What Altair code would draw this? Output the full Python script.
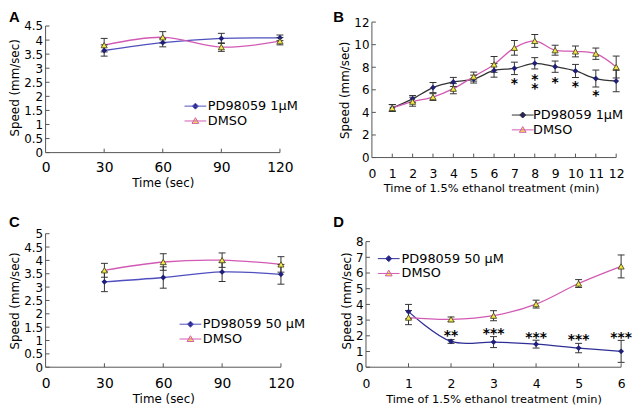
import altair as alt
import pandas as pd

# ---------------- data ----------------
A_time = [30, 60, 90, 120]
A_pd = [3.63, 3.91, 4.06, 4.08]
A_pd_err = [0.20, 0.15, 0.18, 0.10]
A_dm = [3.82, 4.10, 3.75, 3.96]
A_dm_err = [0.24, 0.20, 0.15, 0.13]

B_time = [1, 2, 3, 4, 5, 6, 7, 8, 9, 10, 11, 12]
B_pd = [4.39, 5.20, 6.20, 6.70, 6.95, 7.72, 7.90, 8.35, 8.05, 7.67, 7.00, 6.78]
B_pd_err = [0.30, 0.30, 0.45, 0.40, 0.35, 0.60, 0.55, 0.50, 0.50, 0.58, 0.75, 0.95]
B_dm = [4.39, 4.95, 5.36, 6.10, 7.17, 8.25, 9.72, 10.33, 9.51, 9.40, 9.20, 8.02]
B_dm_err = [0.30, 0.40, 0.30, 0.45, 0.40, 0.70, 0.65, 0.57, 0.44, 0.48, 0.50, 0.97]
B_star_t = [7, 8, 9, 10, 11]
B_star_v = [6.78, 7.10, 6.90, 6.50, 5.70]
B_star_txt = ["*", "*\n*", "*", "*", "*"]

C_time = [30, 60, 90, 120]
C_pd = [3.20, 3.36, 3.57, 3.48]
C_pd_err = [0.37, 0.40, 0.36, 0.37]
C_dm = [3.63, 3.94, 4.01, 3.85]
C_dm_err = [0.26, 0.31, 0.27, 0.29]

D_time = [1, 2, 3, 4, 5, 6]
D_pd = [3.54, 1.64, 1.60, 1.47, 1.22, 1.01]
D_pd_err = [0.46, 0.12, 0.35, 0.25, 0.30, 0.70]
D_dm = [3.16, 3.05, 3.28, 4.02, 5.33, 6.42]
D_dm_err = [0.45, 0.15, 0.32, 0.25, 0.25, 0.73]
D_star_t = [2, 3, 4, 5, 6]
D_star_v = [2.17, 2.30, 2.04, 1.90, 2.04]
D_star_txt = ["**", "***", "***", "***", "***"]

LBL_1 = "PD98059 1\u03bcM"
LBL_50 = "PD98059 50 \u03bcM"
LBL_DM = "DMSO"
PANELS = ["A", "B", "C", "D"]

FONT = "DejaVu Sans"
PD_MARK = "#1f1f78"
DM_FILL = "#f2e64a"
DM_EDGE = "#4a4a20"
DM_LINE = "#d25ab4"
ERR = "#333333"
AXIS = "#555555"

PATH_DIAMOND = "M-2,0L2,0M0,-0.55L0.55,0L0,0.55L-0.55,0Z"
PATH_TRI = "M-2,0L2,0M0,-0.6L0.62,0.45L-0.62,0.45Z"


def panel(letter, times, pd_y, pd_e, dm_y, dm_e, pd_label, pd_line,
          xdom, xticks, ydom, yticks, w, h, xtitle, xtitle_size, xlab_size, xlab_pad,
          leg_x, leg_y, leg_off, letter_x, letter_y, stars=None, pad=0):
    rows = []
    for t, v, e in zip(times, pd_y, pd_e):
        rows.append(dict(t=t, v=v, lo=v - e, hi=v + e, s=pd_label))
    for t, v, e in zip(times, dm_y, dm_e):
        rows.append(dict(t=t, v=v, lo=v - e, hi=v + e, s=LBL_DM))
    df = pd.DataFrame(rows)

    # optional extra room on the left of the axis (pixels) so that panels line up
    ppu = w / (xdom[1] - xdom[0])
    xs = alt.Scale(domain=[xdom[0] - pad / ppu, xdom[1]], nice=False, zero=False)
    ys = alt.Scale(domain=ydom, nice=False, zero=False)

    x_axis = alt.Axis(values=xticks, title=xtitle, titleFont=FONT, titleFontSize=xtitle_size,
                      titleFontWeight="normal", titleColor="#000", titlePadding=3,
                      labelFont=FONT, labelFontSize=xlab_size, labelColor="#000",
                      labelPadding=xlab_pad, labelFlush=False, ticks=False, tickSize=0,
                      grid=False, domain=False, format="d")
    y_axis = alt.Axis(values=yticks, title="Speed (mm/sec)", titleFont=FONT, titleFontSize=12,
                      titleFontWeight="normal", titleColor="#000", titlePadding=2,
                      labelFont=FONT, labelFontSize=12, labelColor="#000", labelPadding=3,
                      labelFlush=False, ticks=False, tickSize=0, grid=False, domain=False,
                      format="~g", offset=-pad)

    base = alt.Chart(df)
    X = alt.X("t:Q", scale=xs, axis=x_axis)
    Y = alt.Y("v:Q", scale=ys, axis=y_axis)
    YLO = alt.Y("lo:Q", scale=ys, axis=y_axis)
    YHI = alt.Y("hi:Q", scale=ys, axis=y_axis)

    yline = alt.Chart(pd.DataFrame({"a": [yticks[0]], "b": [yticks[-1]]})).mark_rule(
        color=AXIS, strokeWidth=1).encode(
        x=alt.value(pad), y=alt.Y("a:Q", scale=ys, axis=y_axis), y2="b:Q")
    xline = alt.Chart(pd.DataFrame({"t": [xdom[0]], "t2": [xdom[1]]})).mark_rule(
        color=AXIS, strokeWidth=1).encode(x=X, x2="t2:Q", y=alt.value(h))
    ytk = alt.Chart(pd.DataFrame({"v": yticks})).mark_rule(color=AXIS, strokeWidth=1).encode(
        x=alt.value(pad), x2=alt.value(pad + 4), y=Y)
    xtk = alt.Chart(pd.DataFrame({"t": [t for t in xticks if t != xdom[0]]})).mark_rule(
        color=AXIS, strokeWidth=1).encode(x=X, y=alt.value(h), y2=alt.value(h - 4))

    layers = [yline, xline, ytk, xtk]

    for lab, col in [(pd_label, pd_line), (LBL_DM, DM_LINE)]:
        layers.append(base.transform_filter(alt.datum.s == lab).mark_line(
            interpolate="catmull-rom", color=col, strokeWidth=1.3).encode(x=X, y=Y))

    for lab in [pd_label, LBL_DM]:
        sub = base.transform_filter(alt.datum.s == lab)
        layers.append(sub.mark_rule(color=ERR, strokeWidth=1).encode(x=X, y=YLO, y2="hi:Q"))
        layers.append(sub.mark_tick(orient="horizontal", color=ERR, thickness=1, size=7,
                                    opacity=1).encode(x=X, y=YLO))
        layers.append(sub.mark_tick(orient="horizontal", color=ERR, thickness=1, size=7,
                                    opacity=1).encode(x=X, y=YHI))

    layers.append(base.transform_filter(alt.datum.s == pd_label).mark_point(
        shape="diamond", filled=True, size=34, color=PD_MARK, opacity=1).encode(x=X, y=Y))
    layers.append(base.transform_filter(alt.datum.s == LBL_DM).mark_point(
        shape="triangle-up", filled=True, size=38, fill=DM_FILL, stroke=DM_EDGE,
        strokeWidth=0.9, opacity=1).encode(x=X, y=Y))

    if stars is not None:
        st, sv, stx = stars
        sdf = pd.DataFrame({"t": st, "v": sv, "txt": stx})
        layers.append(alt.Chart(sdf).mark_text(font=FONT, fontWeight="bold", fontSize=14,
                                               baseline="middle", dy=3, color="#000",
                                               lineBreak="\n", lineHeight=9).encode(
            x=X, y=Y, text="txt:N"))

    # panel letter
    layers.append(alt.Chart(pd.DataFrame({"lbl": [letter]})).mark_text(
        font="Liberation Sans", fontSize=15, fontWeight="bold", align="left",
        baseline="top", color="#000").encode(
        x=alt.value(letter_x), y=alt.value(letter_y), text="lbl:N"))

    leg = alt.Legend(orient="none", legendX=leg_x + pad, legendY=leg_y, title=None,
                     labelFont=FONT, labelFontSize=13, labelColor="#000",
                     symbolSize=121, symbolStrokeWidth=1, labelOffset=leg_off,
                     rowPadding=1, padding=0)
    dom = [pd_label, LBL_DM]
    layers.append(base.transform_filter("false").mark_point(filled=True, opacity=1).encode(
        shape=alt.Shape("s:N", scale=alt.Scale(domain=dom, range=[PATH_DIAMOND, PATH_TRI]), legend=leg),
        fill=alt.Fill("s:N", scale=alt.Scale(domain=dom, range=[PD_MARK, DM_FILL]), legend=leg),
        stroke=alt.Stroke("s:N", scale=alt.Scale(domain=dom, range=[pd_line, DM_LINE]), legend=leg),
    ))

    return alt.layer(*layers).properties(width=w + pad, height=h)


a = panel(PANELS[0], A_time, A_pd, A_pd_err, A_dm, A_dm_err, LBL_1, "#4f4fbf",
          [0, 120], [0, 30, 60, 90, 120], [0, 4.64], [0, 0.5, 1, 1.5, 2, 2.5, 3, 3.5, 4, 4.5],
          237, 132, "Time (sec)", 12, 14, 8, 145, 78.5, 6, -37, -12)
b = panel(PANELS[1], B_time, B_pd, B_pd_err, B_dm, B_dm_err, LBL_1, "#333333",
          [0, 12], list(range(0, 13)), [0, 12], [0, 2, 4, 6, 8, 10, 12],
          247, 137, "Time of 1.5% ethanol treatment (min)", 11.5, 12.5, 10, 146, 87.5, 4,
          -33, -12, stars=(B_star_t, B_star_v, B_star_txt), pad=6)
c = panel(PANELS[2], C_time, C_pd, C_pd_err, C_dm, C_dm_err, LBL_50, "#4f4fbf",
          [0, 120], [0, 30, 60, 90, 120], [0, 5], [0, 0.5, 1, 1.5, 2, 2.5, 3, 3.5, 4, 4.5, 5],
          238, 135, "Time (sec)", 12, 14, 10, 140, 85, 6, -37, -19)
d = panel(PANELS[3], D_time, D_pd, D_pd_err, D_dm, D_dm_err, LBL_50, "#2e2e96",
          [0, 6], [0, 1, 2, 3, 4, 5, 6], [0, 8.504], [0, 1, 2, 3, 4, 5, 6, 7, 8],
          258, 135, "Time of 1.5% ethanol treatment (min)", 11.5, 12.5, 11, 16.5, 18.7, 6.5,
          -33, -19, stars=(D_star_t, D_star_v, D_star_txt))

ind = dict(shape="independent", fill="independent", stroke="independent")
chart = alt.concat(a, b, c, d, columns=2, spacing={"row": 21, "column": 28})
chart = chart.resolve_scale(**ind).resolve_legend(**ind)
chart = chart.properties(padding=0, background="white").configure_view(stroke=None)

chart.save("out.html", embed_options={"renderer": "svg", "actions": False})
